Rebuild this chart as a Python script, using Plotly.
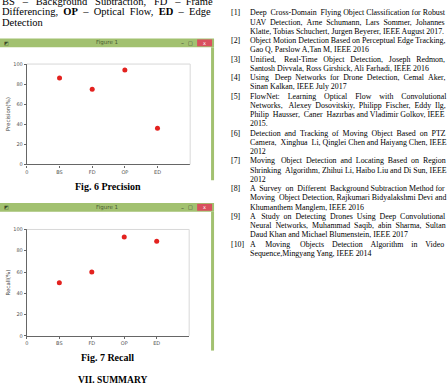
import plotly.graph_objects as go

W, H = 448, 391

# ---------------- data ----------------
methods = ["BS", "FD", "OP", "ED"]
precision = [86, 75, 94, 36]
recall = [50, 60, 93, 89]
x_tick_labels = ["0", "BS", "FD", "OP", "ED"]
y_tick_vals = [0, 20, 40, 60, 80, 100]

intro_lines = [
    "BS – Background Subtraction, FD – Frame",
    "Differencing, <b>OP</b> – Optical Flow, <b>ED</b> – Edge",
    "Detection",
]

references = [
    ("[1]", ["Deep Cross-Domain Flying Object Classification for Robust",
             "UAV Detection, Arne Schumann, Lars Sommer, Johannes",
             "Klatte, Tobias Schuchert, Jurgen Beyerer, IEEE August 2017."]),
    ("[2]", ["Object Motion Detection Based on Perceptual Edge Tracking,",
             "Gao Q, Parslow A,Tan M, IEEE 2016"]),
    ("[3]", ["Unified, Real-Time Object Detection, Joseph Redmon,",
             "Santosh Divvala, Ross Girshick, Ali Farhadi, IEEE 2016"]),
    ("[4]", ["Using Deep Networks for Drone Detection, Cemal Aker,",
             "Sinan Kalkan, IEEE July 2017"]),
    ("[5]", ["FlowNet: Learning Optical Flow with Convolutional",
             "Networks, Alexey Dosovitskiy, Philipp Fischer, Eddy Ilg,",
             "Philip Hausser, Caner Hazırbas and Vladimir Golkov, IEEE",
             "2015."]),
    ("[6]", ["Detection and Tracking of Moving Object Based on PTZ",
             "Camera, Xinghua Li, Qinglei Chen and Haiyang Chen, IEEE",
             "2012"]),
    ("[7]", ["Moving Object Detection and Locating Based on Region",
             "Shrinking Algorithm, Zhihui Li, Haibo Liu and Di Sun, IEEE",
             "2012"]),
    ("[8]", ["A Survey on Different Background Subtraction Method for",
             "Moving Object Detection, Rajkumari Bidyalakshmi Devi and",
             "Khumanthem Manglem, IEEE 2016"]),
    ("[9]", ["A Study on Detecting Drones Using Deep Convolutional",
             "Neural Networks, Muhammad Saqib, abin Sharma, Sultan",
             "Daud Khan and Michael Blumenstein, IEEE 2017"]),
    ("[10]", ["A Moving Objects Detection Algorithm in Video",
              "Sequence,Mingyang Yang, IEEE 2014"]),
]


def px(x):
    return x / W


def py(y):
    return 1 - y / H


SERIF = "Liberation Serif, Times New Roman, serif"
SANS = "DejaVu Sans, Arial, sans-serif"
GREEN = "#A2C170"
RED_BTN = "#D9505E"
MARK_RED = "#E3221F"

# Approximate Times widths (per 1000 em) for simple justification
TW = {" ": 250, ",": 250, ".": 250, ":": 278, "-": 333, "–": 500, "[": 333, "]": 333,
      "(": 333, ")": 333, "ı": 278}
TW.update(dict(zip("abcdefghijklmnopqrstuvwxyz",
                   [444, 500, 444, 500, 444, 333, 500, 500, 278, 278, 500, 278, 778,
                    500, 500, 500, 500, 333, 389, 278, 500, 500, 722, 500, 500, 444])))
TW.update(dict(zip("ABCDEFGHIJKLMNOPQRSTUVWXYZ",
                   [722, 667, 667, 722, 611, 556, 722, 722, 333, 389, 722, 611, 889,
                    722, 722, 556, 722, 667, 556, 611, 722, 722, 944, 722, 722, 611])))
for d in "0123456789":
    TW[d] = 500


def strip_tags(s):
    return s.replace("<b>", "").replace("</b>", "")


def word_w(word, size):
    w = sum(TW.get(c, 500) for c in strip_tags(word))
    if "<b>" in word:
        w *= 1.08
    return w * size / 1000.0


def justify(line, size, target):
    words = line.split(" ")
    if len(words) < 2:
        return line
    natural = sum(word_w(w, size) for w in words)
    sp = 250 * size / 1000.0
    total_spaces = (target - natural) / sp
    gaps = len(words) - 1
    if total_spaces < gaps:
        return line
    n = int(total_spaces)
    base, rem = divmod(n, gaps)
    out = words[0]
    for i, w in enumerate(words[1:]):
        k = base + (1 if i < rem else 0)
        out += " " + "\u00a0" * (k - 1) + w
    return out


positions = list(range(1, len(methods) + 1))

fig = go.Figure()
fig.add_trace(go.Scatter(x=positions, y=precision, mode="markers",
                         marker=dict(color=MARK_RED, size=5),
                         xaxis="x", yaxis="y", showlegend=False,
                         customdata=methods))
fig.add_trace(go.Scatter(x=positions, y=recall, mode="markers",
                         marker=dict(color=MARK_RED, size=5),
                         xaxis="x2", yaxis="y2", showlegend=False,
                         customdata=methods))

ax_common = dict(showgrid=False, zeroline=False, showline=True,
                 linecolor="#666", linewidth=1.2, ticks="outside",
                 ticklen=2, tickcolor="#666",
                 tickfont=dict(family=SANS, size=5, color="#555"),
                 fixedrange=True)

fig.update_layout(
    width=W, height=H,
    margin=dict(l=0, r=0, t=0, b=0),
    paper_bgcolor="white", plot_bgcolor="white",
    xaxis=dict(domain=[px(25), px(189)], range=[0, 5], anchor="y",
               tickvals=list(range(len(x_tick_labels))), ticktext=x_tick_labels,
               **ax_common),
    yaxis=dict(domain=[py(164), py(62)], range=[0, 100], anchor="x",
               tickvals=y_tick_vals,
               title=dict(text="Precision(%)", font=dict(family=SANS, size=5.5, color="#444"),
                          standoff=2),
               **ax_common),
    xaxis2=dict(domain=[px(25), px(188)], range=[0, 5], anchor="y2",
                tickvals=list(range(len(x_tick_labels))), ticktext=x_tick_labels,
                **ax_common),
    yaxis2=dict(domain=[py(338), py(230)], range=[0, 100], anchor="x2",
                tickvals=y_tick_vals,
                title=dict(text="Recall(%)", font=dict(family=SANS, size=5.5, color="#444"),
                           standoff=2),
                **ax_common),
)

shapes = []
for xr, yr in (("x domain", "y domain"), ("x2 domain", "y2 domain")):
    shapes.append(dict(type="line", xref=xr, yref=yr, x0=0, x1=1, y0=1, y1=1,
                       line=dict(color="#D8D8D8", width=1)))
    shapes.append(dict(type="line", xref=xr, yref=yr, x0=1, x1=1, y0=0, y1=1,
                       line=dict(color="#D8D8D8", width=1)))


def window(top, bottom):
    shapes.append(dict(type="rect", xref="paper", yref="paper",
                       x0=px(-5), x1=px(213), y0=py(top + 9), y1=py(top),
                       fillcolor=GREEN, line=dict(width=0), layer="below"))
    shapes.append(dict(type="rect", xref="paper", yref="paper",
                       x0=px(196), x1=px(211), y0=py(top + 8), y1=py(top + 1),
                       fillcolor=RED_BTN, line=dict(width=0)))
    shapes.append(dict(type="rect", xref="paper", yref="paper",
                       x0=px(210), x1=px(213), y0=py(bottom), y1=py(top + 9),
                       fillcolor=GREEN, line=dict(width=0)))


window(36, 180)
window(203, 353)

annotations = []


def text(x, y, s, size, family=SERIF, color="black", xanchor="left", bold=False):
    annotations.append(dict(xref="paper", yref="paper", x=px(x), y=py(y),
                            text=("<b>%s</b>" % s) if bold else s,
                            showarrow=False, xanchor=xanchor, yanchor="middle",
                            font=dict(family=family, size=size, color=color)))


for top in (36, 203):
    text(105, top + 4.5, "Figure 1", 5.5, family=SANS, color="#4A5A30", xanchor="center")
    text(181, top + 4.5, "–", 6, family=SANS, color="#333", xanchor="center")
    text(189, top + 4.5, "□", 5, family=SANS, color="#333", xanchor="center")
    text(203.5, top + 4.5, "x", 5, family=SANS, color="white", xanchor="center")
    text(5, top + 4.5, "◩", 5, family=SANS, color="#3A4A2A", xanchor="center")

INTRO_SIZE = 10.5
intro_y = [-2, 9, 20]
for i, (yy, line) in enumerate(zip(intro_y, intro_lines)):
    s = justify(line, INTRO_SIZE, 212) if i < len(intro_lines) - 1 else line
    text(-2, yy, s, INTRO_SIZE)

text(106, 186, "Fig. 6 Precision", 10, bold=True, xanchor="center")
text(106, 360, "Fig. 7 Recall", 10, bold=True, xanchor="center")
text(111, 383, "VII. SUMMARY", 9.5, bold=True, xanchor="center")

REF_SIZE = 7.9
y = 10
step = 9.4
for num, lines in references:
    text(228, y, num, REF_SIZE)
    for j, ln in enumerate(lines):
        s = justify(ln, REF_SIZE, 197) if j < len(lines) - 1 else ln
        text(247, y, s, REF_SIZE)
        y += step

fig.update_layout(shapes=shapes, annotations=annotations)
fig.write_html("out.html")
